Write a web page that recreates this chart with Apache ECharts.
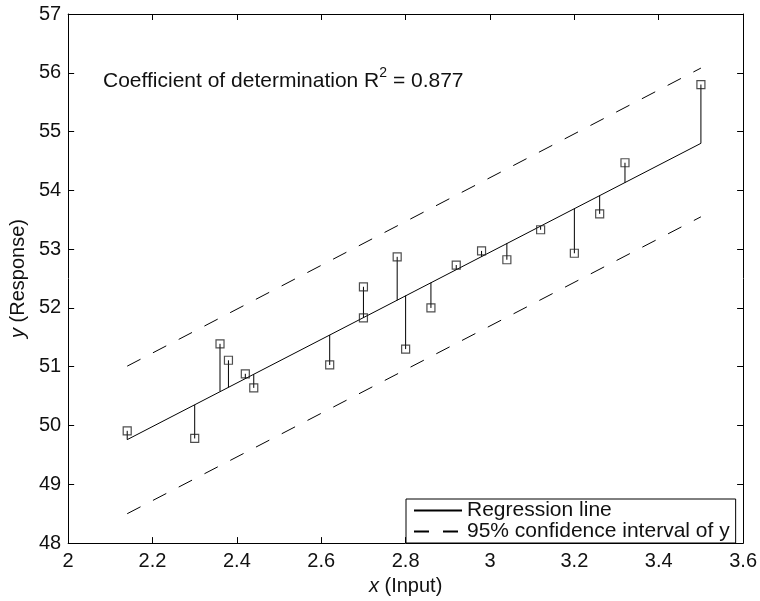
<!DOCTYPE html>
<html>
<head>
<meta charset="utf-8">
<script src="https://cdn.jsdelivr.net/npm/echarts@6/dist/echarts.min.js"></script>
<style>
html,body{margin:0;padding:0;background:#fff;}
#chart{width:760px;height:601px;}
</style>
</head>
<body>
<div id="chart"></div>
<script>
// ---- data ----
const xData   = [2.14, 2.30, 2.36, 2.38, 2.42, 2.44, 2.62, 2.70, 2.70, 2.78, 2.80, 2.86, 2.92, 2.98, 3.04, 3.12, 3.20, 3.26, 3.32, 3.50];
const yData   = [49.91, 49.78, 51.39, 51.11, 50.88, 50.64, 51.03, 52.36, 51.83, 52.87, 51.30, 52.00, 52.73, 52.97, 52.82, 53.33, 52.93, 53.60, 54.47, 55.80];
const fittedY = [49.76, 50.35, 50.58, 50.65, 50.80, 50.87, 51.54, 51.84, 51.84, 52.13, 52.21, 52.43, 52.65, 52.87, 53.10, 53.39, 53.69, 53.91, 54.13, 54.80];
const regX    = [2.14, 3.50];
const regY    = [49.76, 54.80];
const ciUpper = [51.01, 56.08];
const ciLower = [48.50, 53.55];
const r2Text  = '0.877';
const regName = 'Regression line';
const ciName  = '95% confidence interval of y';

const FONT = '"Liberation Sans", Arial, Helvetica, sans-serif';
const chart = echarts.init(document.getElementById('chart'), null, {renderer: 'canvas'});

const pairs = (xs, ys) => xs.map((x, i) => [x, ys[i]]);
const fmt = v => String(Number(v.toFixed(2)));

const axisCommon = {
  type: 'value',
  axisLine: {show: true, onZero: false, lineStyle: {color: '#000', width: 1}},
  axisTick: {show: true, inside: true, length: 6, lineStyle: {color: '#000', width: 1}},
  splitLine: {show: false}
};

const option = {
  animation: false,
  backgroundColor: '#fff',
  grid: {left: 64, right: 16, top: 14, bottom: 50, containLabel: false},
  xAxis: [
    Object.assign({}, axisCommon, {
      position: 'bottom', min: 2, max: 3.6, interval: 0.2,
      axisLabel: {fontFamily: FONT, fontSize: 20, color: '#111', margin: 8, formatter: fmt},
      name: '{i|x} (Input)', nameLocation: 'middle', nameGap: 29,
      nameTextStyle: {fontFamily: FONT, fontSize: 20, color: '#111',
        rich: {i: {fontFamily: FONT, fontSize: 20, fontStyle: 'italic', color: '#111'}}}
    }),
    Object.assign({}, axisCommon, {
      position: 'top', min: 2, max: 3.6, interval: 0.2,
      axisLabel: {show: false}
    })
  ],
  yAxis: [
    Object.assign({}, axisCommon, {
      position: 'left', min: 48, max: 57, interval: 1,
      axisLabel: {fontFamily: FONT, fontSize: 20, color: '#111', margin: 7},
      name: '{i|y} (Response)', nameLocation: 'middle', nameGap: 32, nameRotate: 90,
      nameTextStyle: {fontFamily: FONT, fontSize: 20, color: '#111',
        rich: {i: {fontFamily: FONT, fontSize: 20, fontStyle: 'italic', color: '#111'}}}
    }),
    Object.assign({}, axisCommon, {
      position: 'right', min: 48, max: 57, interval: 1,
      axisLabel: {show: false}
    })
  ],
  legend: {
    data: [regName, ciName],
    orient: 'vertical',
    left: 406, bottom: 58,
    padding: [1, 6, 1, 7],
    itemGap: 0,
    itemWidth: 48, itemHeight: 14,
    itemStyle: {opacity: 0},
    backgroundColor: '#fff',
    borderColor: '#000', borderWidth: 1, borderRadius: 0,
    textStyle: {fontFamily: FONT, fontSize: 21, color: '#111', lineHeight: 18},
    selectedMode: false
  },
  graphic: [{
    type: 'text', left: 103, top: 66, z: 100,
    style: {
      text: '{a|Coefficient of determination R}{s|2}{a| = ' + r2Text + '}',
      rich: {
        a: {fontFamily: FONT, fontSize: 21, fill: '#111', lineHeight: 26, verticalAlign: 'bottom'},
        s: {fontFamily: FONT, fontSize: 14, fill: '#111', verticalAlign: 'top', lineHeight: 14}
      }
    }
  }],
  series: [
    {
      name: regName, type: 'line', data: pairs(regX, regY),
      symbol: 'none', lineStyle: {color: '#000', width: 1}, itemStyle: {color: '#000'}, z: 3
    },
    {
      name: ciName, type: 'line', data: pairs(regX, ciUpper),
      symbol: 'none', lineStyle: {color: '#000', width: 1, type: [15, 14]}, itemStyle: {color: '#000'}, z: 3
    },
    {
      name: ciName, type: 'line', data: pairs(regX, ciLower),
      symbol: 'none', lineStyle: {color: '#000', width: 1, type: [15, 14]}, itemStyle: {color: '#000'}, z: 3
    },
    {
      name: 'Residuals', type: 'custom',
      data: xData.map((x, i) => [x, yData[i], fittedY[i]]),
      encode: {x: 0, y: [1, 2]},
      renderItem: function (params, api) {
        const p1 = api.coord([api.value(0), api.value(1)]);
        const p2 = api.coord([api.value(0), api.value(2)]);
        return {type: 'line', shape: {x1: p1[0], y1: p1[1], x2: p2[0], y2: p2[1]},
                style: {stroke: '#000', lineWidth: 1}};
      },
      z: 4
    },
    {
      name: 'Observations', type: 'scatter', data: pairs(xData, yData),
      symbol: 'rect', symbolSize: 8,
      itemStyle: {color: 'rgba(0,0,0,0)', borderColor: '#222', borderWidth: 1.2},
      z: 5
    }
  ]
};
chart.setOption(option);
</script>
</body>
</html>
